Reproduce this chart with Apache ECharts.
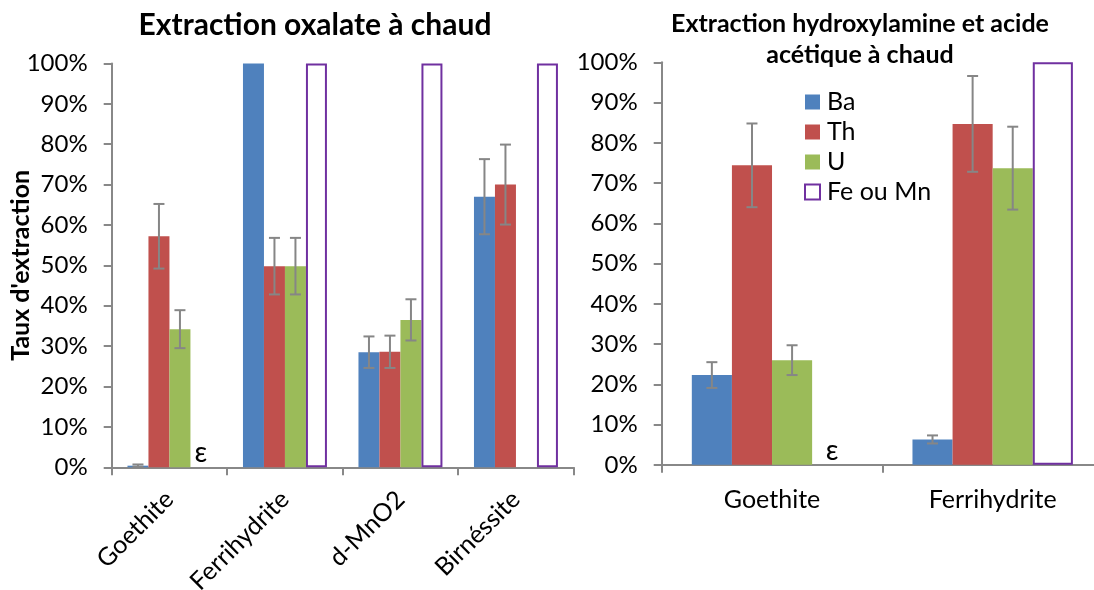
<!DOCTYPE html>
<html>
<head>
<meta charset="utf-8">
<script src="https://cdn.jsdelivr.net/npm/echarts@6/dist/echarts.min.js"></script>
<style>
  html, body { margin: 0; padding: 0; background: #fff; }
  #chart { width: 1094px; height: 590px; }
</style>
</head>
<body>
<div id="chart"></div>
<script>
// Hot oxalate extraction (left panel), percent extracted
const oxCategories = ['Goethite', 'Ferrihydrite', 'd-MnO2', 'Birnéssite'];
const oxBa    = [0.4, 100, 28.5, 67.0];
const oxBaErr = [0.3, 0, 3.9, 9.3];
const oxTh    = [57.2, 49.8, 28.6, 70.0];
const oxThErr = [8.0, 7.0, 4.0, 9.9];
const oxU     = [34.2, 49.8, 36.5, null];
const oxUErr  = [4.7, 7.0, 5.1, null];
const oxFe    = [0, 100, 100, 100];
const oxFeNote = ['ε', '', '', ''];

// Hot hydroxylamine + acetic acid extraction (right panel)
const hyCategories = ['Goethite', 'Ferrihydrite'];
const hyBa    = [22.3, 6.3];
const hyBaErr = [3.2, 1.0];
const hyTh    = [74.4, 84.7];
const hyThErr = [10.4, 11.9];
const hyU     = [26.0, 73.7];
const hyUErr  = [3.7, 10.3];
const hyFe    = [0, 100];
const hyFeNote = ['ε', ''];

const yTicks = { min: 0, max: 100, interval: 10 };

const FONT = 'Lato';
const AXIS_COLOR = '#888888';
const COLORS = { Ba: '#4F81BD', Th: '#C0504D', U: '#9BBB59', Fe: '#7030A0' };
const GAP = 0.273;          // category gap share (Excel gap width 150%)
const N_SERIES = 4;

const chart = echarts.init(document.getElementById('chart'), null, { renderer: 'canvas' });

function feData(values, notes) {
  return values.map((v, i) => notes[i]
    ? { value: v, itemStyle: { borderWidth: 0 },
        label: { show: true, formatter: notes[i], position: 'top', distance: 0,
                 fontSize: 28, fontFamily: FONT, color: '#000' } }
    : v);
}

function errData(seriesIdx, values, errs) {
  const out = [];
  values.forEach((v, i) => {
    if (v != null && errs[i]) out.push([i, seriesIdx, v, errs[i]]);
  });
  return out;
}

function renderErr(params, api) {
  const cat = api.value(0), sIdx = api.value(1), val = api.value(2), err = api.value(3);
  const base = api.coord([cat, val]);
  const band = api.size([1, 0])[0];
  const bw = band * (1 - GAP) / N_SERIES;
  const x = base[0] - band * (1 - GAP) / 2 + (sIdx + 0.5) * bw;
  const yTop = api.coord([cat, val + err])[1];
  const yBot = api.coord([cat, Math.max(0, val - err)])[1];
  const cap = 5.5;
  const style = { stroke: '#868686', lineWidth: 2, fill: null };
  return {
    type: 'group',
    children: [
      { type: 'line', shape: { x1: x, y1: yTop, x2: x, y2: yBot }, style },
      { type: 'line', shape: { x1: x - cap, y1: yTop, x2: x + cap, y2: yTop }, style },
      { type: 'line', shape: { x1: x - cap, y1: yBot, x2: x + cap, y2: yBot }, style }
    ]
  };
}

function barSeries(name, data, axisIdx, extra) {
  return Object.assign({
    name, type: 'bar', data,
    xAxisIndex: axisIdx, yAxisIndex: axisIdx,
    barGap: '0%', barCategoryGap: (GAP * 100) + '%',
    itemStyle: { color: COLORS[name] },
    emphasis: { disabled: true },
    animation: false
  }, extra || {});
}

const feStyle = { itemStyle: { color: '#ffffff', borderColor: COLORS.Fe, borderWidth: 2 } };

function errSeries(axisIdx, data) {
  return {
    type: 'custom', xAxisIndex: axisIdx, yAxisIndex: axisIdx,
    renderItem: renderErr, data, z: 5, animation: false, silent: true,
    encode: { x: 0, y: 2 }
  };
}

const axisLine = { show: true, lineStyle: { color: AXIS_COLOR, width: 2 } };
const axisTick = { show: true, length: 8, inside: false, lineStyle: { color: AXIS_COLOR, width: 2 } };

function yAxis(gridIndex, withName) {
  return Object.assign({
    type: 'value', gridIndex,
    min: yTicks.min, max: yTicks.max, interval: yTicks.interval,
    axisLine, axisTick,
    splitLine: { show: false },
    axisLabel: { formatter: '{value}%', fontFamily: FONT, fontSize: 24, color: '#000', margin: 24 }
  }, withName ? {
    name: "Taux d'extraction", nameLocation: 'middle', nameGap: 78, nameMoveOverlap: false,
    nameTextStyle: { fontFamily: FONT, fontWeight: 'bold', fontSize: 25, color: '#000' }
  } : {});
}

const option = {
  backgroundColor: '#ffffff',
  animation: false,
  title: [
    { text: 'Extraction oxalate à chaud', left: 310, top: 5, textAlign: 'center',
      textStyle: { fontFamily: FONT, fontWeight: 'bold', fontSize: 30, color: '#000' } },
    { text: 'Extraction hydroxylamine et acide\nacétique à chaud', left: 855, top: 3, textAlign: 'center',
      textStyle: { fontFamily: FONT, fontWeight: 'bold', fontSize: 25, lineHeight: 31, color: '#000' } }
  ],
  legend: {
    orient: 'vertical', left: 804, top: 87, padding: 0, itemGap: 0,
    itemWidth: 15, itemHeight: 15, icon: 'rect',
    data: ['Ba', 'Th', 'U', 'Fe ou Mn'],
    textStyle: { fontFamily: FONT, fontSize: 25, color: '#000', lineHeight: 30, padding: [0, 0, 0, 2] },
    selectedMode: false
  },
  grid: [
    { left: 111.7, right: 1094 - 573.7, top: 63.4, bottom: 590 - 467.3, outerBoundsMode: 'none' },
    { left: 661.7, right: 1094 - 1103, top: 62.3, bottom: 590 - 464.8, outerBoundsMode: 'none' }
  ],
  xAxis: [
    { type: 'category', gridIndex: 0, data: oxCategories, axisLine, axisTick,
      axisLabel: { rotate: 45, fontFamily: FONT, fontSize: 25, color: '#000', margin: 28, interval: 0 } },
    { type: 'category', gridIndex: 1, data: hyCategories, axisLine, axisTick,
      axisLabel: { fontFamily: FONT, fontSize: 25, color: '#000', margin: 23, interval: 0 } }
  ],
  yAxis: [yAxis(0, true), yAxis(1, false)],
  series: [
    barSeries('Ba', oxBa, 0),
    barSeries('Th', oxTh, 0),
    barSeries('U', oxU, 0),
    barSeries('Fe ou Mn', feData(oxFe, oxFeNote), 0, feStyle),
    errSeries(0, [].concat(errData(0, oxBa, oxBaErr), errData(1, oxTh, oxThErr), errData(2, oxU, oxUErr))),

    barSeries('Ba', hyBa, 1),
    barSeries('Th', hyTh, 1),
    barSeries('U', hyU, 1),
    barSeries('Fe ou Mn', feData(hyFe, hyFeNote), 1, feStyle),
    errSeries(1, [].concat(errData(0, hyBa, hyBaErr), errData(1, hyTh, hyThErr), errData(2, hyU, hyUErr)))
  ]
};

chart.setOption(option);
</script>
</body>
</html>
